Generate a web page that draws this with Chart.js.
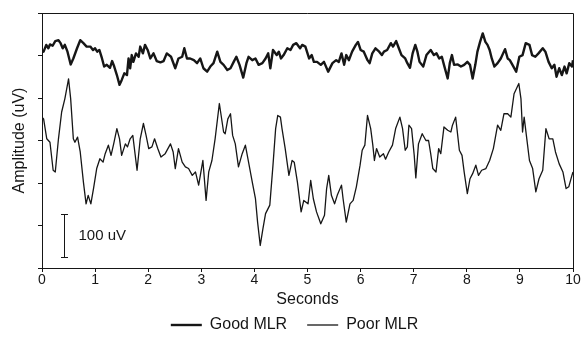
<!DOCTYPE html>
<html>
<head>
<meta charset="utf-8">
<title>MLR amplitude</title>
<script src="https://cdn.jsdelivr.net/npm/chart.js@4/dist/chart.umd.min.js"></script>
<style>
  html, body { margin: 0; padding: 0; background: #fff; }
  #mlrChart { display: block; }
</style>
</head>
<body>
<canvas id="mlrChart" width="584" height="339"></canvas>
<script>
// Recorded traces: time in seconds, amplitude in uV
const goodTime = [
  0, 0.03, 0.08, 0.12, 0.15, 0.2, 0.25, 0.31, 0.35, 0.39,
  0.43, 0.48, 0.54, 0.59, 0.66, 0.72, 0.78, 0.84, 0.91, 0.96,
  1.0, 1.04, 1.08, 1.13, 1.17, 1.22, 1.28, 1.32, 1.36, 1.41,
  1.46, 1.5, 1.55, 1.6, 1.63, 1.66, 1.69, 1.72, 1.77, 1.82,
  1.85, 1.9, 1.94, 1.99, 2.04, 2.1, 2.16, 2.23, 2.29, 2.35,
  2.43, 2.51, 2.57, 2.64, 2.68, 2.73, 2.79, 2.86, 2.92, 2.98,
  3.04, 3.11, 3.17, 3.23, 3.3, 3.36, 3.42, 3.49, 3.55, 3.61,
  3.66, 3.72, 3.79, 3.85, 3.89, 3.96, 4.02, 4.08, 4.15, 4.21,
  4.26, 4.3, 4.35, 4.42, 4.46, 4.5, 4.55, 4.62, 4.68, 4.73,
  4.79, 4.86, 4.9, 4.96, 5.03, 5.08, 5.12, 5.18, 5.25, 5.31,
  5.39, 5.47, 5.54, 5.59, 5.64, 5.69, 5.73, 5.78, 5.84, 5.91,
  5.95, 6.0, 6.06, 6.13, 6.17, 6.22, 6.28, 6.35, 6.4, 6.44,
  6.5, 6.57, 6.61, 6.67, 6.72, 6.77, 6.84, 6.88, 6.93, 6.98,
  7.03, 7.07, 7.11, 7.18, 7.24, 7.32, 7.38, 7.43, 7.48, 7.53,
  7.57, 7.64, 7.68, 7.72, 7.76, 7.83, 7.89, 7.95, 8.01, 8.06,
  8.11, 8.16, 8.2, 8.25, 8.3, 8.35, 8.39, 8.43, 8.47, 8.52,
  8.58, 8.64, 8.72, 8.77, 8.81, 8.86, 8.93, 8.99, 9.05, 9.11,
  9.18, 9.23, 9.29, 9.35, 9.43, 9.48, 9.54, 9.6, 9.65, 9.69,
  9.74, 9.79, 9.84, 9.88, 9.93, 9.98, 10.0
]
const goodAmp = [
  508, 509, 525, 517, 526, 523, 534, 536, 529, 517,
  525, 509, 479, 493, 517, 536, 529, 521, 521, 513,
  517, 509, 513, 493, 474, 478, 471, 487, 474, 454,
  431, 442, 458, 454, 493, 470, 501, 485, 505, 497,
  521, 505, 525, 513, 493, 505, 487, 484, 487, 505,
  497, 470, 493, 497, 517, 493, 493, 489, 482, 493,
  470, 462, 474, 482, 509, 485, 478, 466, 470, 485,
  497, 478, 448, 482, 497, 489, 493, 478, 482, 493,
  505, 470, 513, 501, 509, 493, 501, 517, 513, 525,
  529, 517, 525, 521, 493, 501, 485, 485, 478, 485,
  462, 482, 489, 485, 505, 478, 501, 489, 509, 525,
  532, 513, 509, 489, 482, 505, 517, 509, 501, 509,
  513, 529, 521, 534, 517, 501, 493, 482, 471, 505,
  525, 509, 485, 474, 501, 513, 501, 505, 493, 497,
  478, 446, 482, 501, 478, 479, 474, 478, 485, 478,
  446, 478, 509, 532, 552, 532, 525, 513, 493, 474,
  482, 493, 515, 493, 489, 478, 462, 497, 501, 529,
  525, 501, 497, 505, 517, 509, 485, 470, 478, 450,
  470, 454, 474, 458, 482, 474, 489
]

const poorTime = [
  0, 0.03, 0.09, 0.15, 0.21, 0.25, 0.31, 0.37, 0.43, 0.5,
  0.54, 0.59, 0.62, 0.67, 0.72, 0.78, 0.83, 0.87, 0.92, 0.97,
  1.03, 1.09, 1.15, 1.19, 1.25, 1.3, 1.35, 1.41, 1.46, 1.5,
  1.57, 1.61, 1.66, 1.71, 1.79, 1.85, 1.91, 1.96, 2.01, 2.07,
  2.12, 2.18, 2.24, 2.32, 2.42, 2.47, 2.51, 2.57, 2.64, 2.7,
  2.76, 2.83, 2.89, 2.95, 3.03, 3.09, 3.14, 3.2, 3.26, 3.34,
  3.42, 3.45, 3.5, 3.55, 3.59, 3.64, 3.7, 3.77, 3.83, 3.89,
  3.96, 4.02, 4.06, 4.11, 4.16, 4.21, 4.29, 4.35, 4.4, 4.44,
  4.49, 4.52, 4.58, 4.65, 4.71, 4.75, 4.81, 4.88, 4.93, 5.01,
  5.06, 5.11, 5.17, 5.25, 5.32, 5.36, 5.4, 5.45, 5.51, 5.56,
  5.64, 5.67, 5.73, 5.8, 5.86, 5.92, 5.99, 6.03, 6.08, 6.13,
  6.19, 6.23, 6.26, 6.3, 6.36, 6.43, 6.47, 6.53, 6.6, 6.66,
  6.74, 6.79, 6.84, 6.88, 6.91, 6.96, 7.01, 7.04, 7.09, 7.16,
  7.23, 7.28, 7.32, 7.36, 7.42, 7.47, 7.51, 7.57, 7.64, 7.7,
  7.73, 7.79, 7.86, 7.91, 7.95, 8.01, 8.06, 8.11, 8.17, 8.22,
  8.28, 8.36, 8.43, 8.5, 8.58, 8.64, 8.7, 8.77, 8.83, 8.89,
  8.98, 9.02, 9.05, 9.08, 9.13, 9.18, 9.24, 9.3, 9.36, 9.43,
  9.49, 9.55, 9.62, 9.67, 9.74, 9.81, 9.87, 9.92, 9.98, 10.0
]
const poorAmp = [
  355, 351, 304, 296, 230, 226, 304, 367, 398, 445,
  398, 304, 296, 308, 273, 202, 151, 171, 151, 187,
  234, 257, 249, 269, 289, 265, 292, 328, 304, 265,
  292, 285, 304, 312, 230, 304, 340, 312, 281, 285,
  304, 281, 261, 269, 292, 273, 234, 281, 249, 238,
  234, 218, 226, 195, 253, 159, 226, 253, 304, 387,
  320, 316, 351, 363, 312, 292, 238, 269, 289, 249,
  202, 163, 108, 53, 92, 128, 148, 242, 328, 359,
  355, 328, 281, 218, 253, 249, 202, 132, 159, 151,
  206, 163, 132, 104, 124, 187, 218, 171, 151, 171,
  195, 163, 108, 151, 159, 191, 242, 277, 289, 359,
  328, 289, 253, 281, 261, 269, 256, 273, 289, 328,
  355, 328, 277, 285, 336, 328, 265, 212, 292, 316,
  300, 300, 269, 234, 226, 281, 269, 332, 324, 320,
  336, 355, 277, 265, 226, 175, 210, 222, 242, 218,
  230, 234, 253, 281, 336, 324, 363, 363, 355, 410,
  434, 398, 320, 355, 304, 253, 234, 179, 210, 230,
  328, 304, 304, 273, 245, 226, 187, 191, 218, 226
]

const xTicks = [0, 1, 2, 3, 4, 5, 6, 7, 8, 9, 10]
const yTicks = [0, 100, 200, 300, 400, 500, 600]

// Calibration bar: 100 uV tall, drawn at 0.41 s
const barTime = 0.41
const barFrom = 27
const barSize = 100
const barLabel = "100 uV"

const INK = "#161616"
const FONT = "'Liberation Sans', Arial, Helvetica, sans-serif"

const toPoints = (times, values) => times.map((t, i) => ({ x: t, y: values[i] }))

// Closes the plot box on the top and right edges
const frame = {
  id: "frame",
  afterDraw(chart) {
    const { ctx, chartArea: a } = chart
    ctx.save()
    ctx.strokeStyle = INK
    ctx.lineWidth = 1
    ctx.beginPath()
    ctx.moveTo(a.left, Math.round(a.top) + 0.5)
    ctx.lineTo(Math.round(a.right) + 0.5, Math.round(a.top) + 0.5)
    ctx.lineTo(Math.round(a.right) + 0.5, a.bottom)
    ctx.stroke()
    ctx.restore()
  },
}

// Vertical calibration bar with end caps and its label
const scaleBar = {
  id: "scaleBar",
  afterDatasetsDraw(chart) {
    const { ctx, scales } = chart
    const px = Math.round(scales.x.getPixelForValue(barTime)) + 0.5
    const top = Math.round(scales.y.getPixelForValue(barFrom + barSize)) + 0.5
    const bottom = Math.round(scales.y.getPixelForValue(barFrom)) + 0.5
    ctx.save()
    ctx.strokeStyle = INK
    ctx.lineWidth = 1
    ctx.beginPath()
    ctx.moveTo(px, top)
    ctx.lineTo(px, bottom)
    ctx.moveTo(px - 3.5, top)
    ctx.lineTo(px + 3.5, top)
    ctx.moveTo(px - 3.5, bottom)
    ctx.lineTo(px + 3.5, bottom)
    ctx.stroke()
    ctx.fillStyle = INK
    ctx.font = "15px " + FONT
    ctx.textBaseline = "middle"
    ctx.fillText(barLabel, px + 14, (top + bottom) / 2)
    ctx.restore()
  },
}

document.addEventListener("DOMContentLoaded", () => {
  const canvas = document.getElementById("mlrChart")

  new Chart(canvas, {
    type: "line",
    data: {
      datasets: [
        {
          label: "Good MLR",
          data: toPoints(goodTime, goodAmp),
          borderColor: INK,
          borderWidth: 2.4,
          borderJoinStyle: "round",
          pointRadius: 0,
          tension: 0,
        },
        {
          label: "Poor MLR",
          data: toPoints(poorTime, poorAmp),
          borderColor: INK,
          borderWidth: 1.3,
          borderJoinStyle: "round",
          pointRadius: 0,
          tension: 0,
        },
      ],
    },
    options: {
      responsive: false,
      animation: false,
      events: [],
      // left padding nudges the centred legend; the y axis box shrinks to match
      layout: {
        padding: { top: 13, right: 11, bottom: -4, left: 16 },
      },
      scales: {
        x: {
          type: "linear",
          min: 0,
          max: 10,
          afterBuildTicks: (scale) => {
            scale.ticks = xTicks.map((v) => ({ value: v }))
          },
          afterFit: (scale) => {
            scale.height = 29
          },
          ticks: {
            color: INK,
            padding: 0,
            maxRotation: 0,
            font: { family: FONT, size: 14 },
          },
          grid: { drawOnChartArea: false, tickLength: 4, color: INK },
          border: { color: INK },
          title: {
            display: true,
            text: "Seconds",
            color: INK,
            font: { family: FONT, size: 16 },
            padding: { top: 0, bottom: -12 },
          },
        },
        y: {
          min: 0,
          max: 600,
          afterBuildTicks: (scale) => {
            scale.ticks = yTicks.map((v) => ({ value: v }))
          },
          afterFit: (scale) => {
            scale.width = 26
          },
          ticks: { display: false },
          grid: { drawOnChartArea: false, tickLength: 4, color: INK },
          border: { color: INK },
          title: {
            display: true,
            text: "Amplitude (uV)",
            color: INK,
            font: { family: FONT, size: 16 },
            padding: { top: -6.5, bottom: 0 },
          },
        },
      },
      plugins: {
        legend: {
          position: "bottom",
          labels: {
            usePointStyle: true,
            pointStyle: "line",
            pointStyleWidth: 31,
            color: INK,
            padding: 20,
            font: { family: FONT, size: 16 },
          },
        },
        tooltip: { enabled: false },
      },
    },
    plugins: [frame, scaleBar],
  })
})
</script>
</body>
</html>
